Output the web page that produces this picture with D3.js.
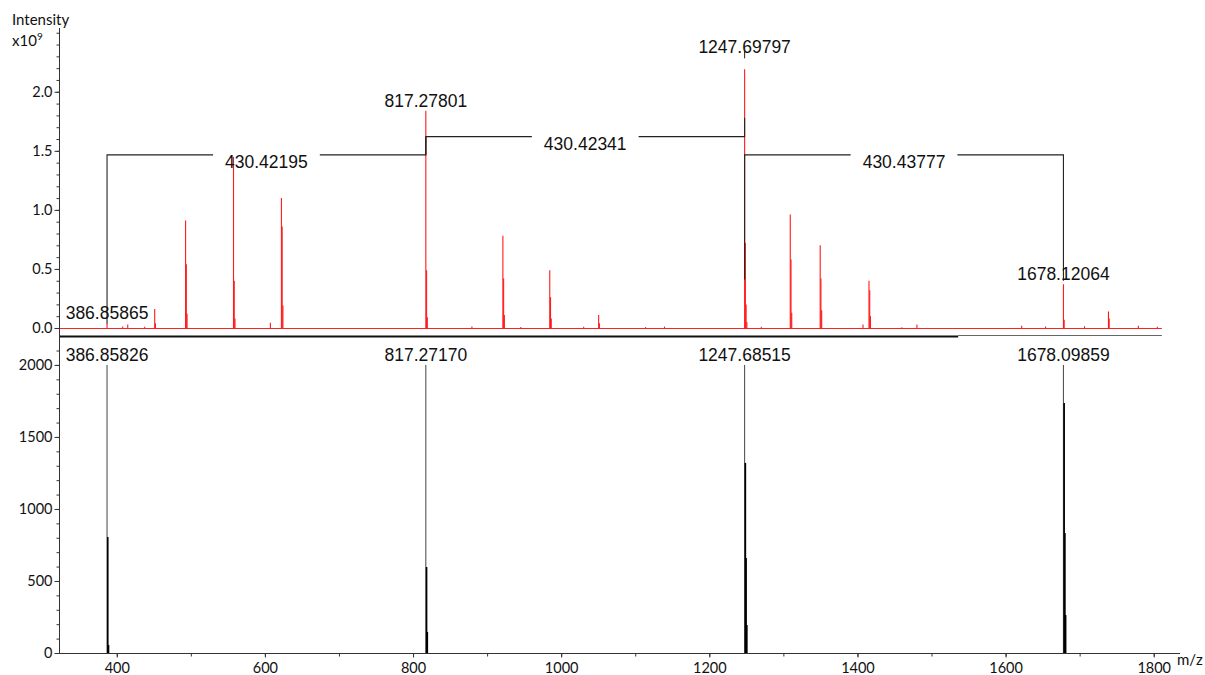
<!DOCTYPE html>
<html><head><meta charset="utf-8">
<script src="https://cdn.jsdelivr.net/npm/d3@7"></script>
<style>body{margin:0;background:#fff}svg{display:block}</style>
</head><body><svg id="c" width="1205" height="675"></svg>
<script>
// ---------- data ----------
// experimental spectrum (red, x10^9)
const topMz = [386.86, 408.0, 414.8, 437.7, 451.2, 452.2,
  492.9, 493.9, 494.9, 557.6, 558.6, 559.6, 607.4, 622.3, 623.3, 624.3,
  817.28, 818.28, 819.28, 879.5, 921.3, 922.3, 923.3, 945.5,
  984.6, 985.6, 986.6, 1030.4, 1050.6, 1051.6, 1113.9, 1139.5,
  1247.70, 1248.70, 1249.70, 1250.70, 1270.2,
  1309.3, 1310.3, 1311.3, 1349.7, 1350.7, 1351.7, 1407.5,
  1415.6, 1416.6, 1417.6, 1460.0, 1480.3, 1621.7, 1654.0,
  1678.12, 1679.12, 1706.6, 1738.9, 1739.9, 1779.3, 1804.9];
const topIntensity = [0.04, 0.012, 0.03, 0.01, 0.16, 0.04,
  0.91, 0.54, 0.12, 1.45, 0.40, 0.08, 0.045, 1.10, 0.86, 0.19,
  1.84, 0.49, 0.09, 0.012, 0.78, 0.42, 0.11, 0.008,
  0.49, 0.26, 0.08, 0.01, 0.11, 0.04, 0.008, 0.012,
  2.19, 0.72, 0.20, 0.05, 0.01,
  0.96, 0.58, 0.13, 0.70, 0.42, 0.15, 0.03,
  0.40, 0.32, 0.10, 0.006, 0.03, 0.02, 0.012,
  0.37, 0.07, 0.015, 0.14, 0.08, 0.02, 0.01];
// theoretical spectrum (black)
const bottomMz = [386.86, 387.86, 388.86,
  817.27, 818.27, 819.27,
  1247.69, 1248.69, 1249.69, 1250.69,
  1678.10, 1679.10, 1680.10, 1681.10];
const bottomIntensity = [2000, 805, 55,
  2000, 597, 146,
  2000, 1320, 660, 195,
  2000, 1736, 833, 264];
const topLabelMz = [386.85865, 817.27801, 1247.69797, 1678.12064];
const topLabelPeak = [0.04, 1.84, 2.19, 0.37];
const bottomLabelMz = [386.85826, 817.27170, 1247.68515, 1678.09859];
const bottomLabelPeak = [2000, 2000, 2000, 2000];
const bracketStart = [386.85865, 817.27801, 1247.69797];
const bracketEnd = [817.27801, 1247.69797, 1678.12064];
const bracketLevel = [1.466, 1.62, 1.466];
const bracketStartFoot = [0.035, 1.466, 0.41];
const bracketEndFoot = [1.62, 1.78, 0.40];
const bracketText = ["430.42195", "430.42341", "430.43777"];
const topTicks = [0.0, 0.5, 1.0, 1.5, 2.0];
const bottomTicks = [0, 500, 1000, 1500, 2000];
const xTicks = [400, 600, 800, 1000, 1200, 1400, 1600, 1800];

// ---------- layout ----------
const svg = d3.select("#c");
const x = d3.scaleLinear().domain([322, 1835.5]).range([59, 1180]);
const yTop = d3.scaleLinear().domain([0, 2.54]).range([328, 28]);
const yBot = d3.scaleLinear().domain([0, 2187]).range([653, 338]);
const specEnd = 1811;
const peakFont = "'Liberation Sans', Arial, sans-serif";
const axisFont = "Lato, 'Open Sans', sans-serif";

// top red spectrum
const gTop = svg.append("g");
gTop.append("line")
  .attr("x1", x(322)).attr("x2", x(specEnd))
  .attr("y1", yTop(0) + 0.5).attr("y2", yTop(0) + 0.5)
  .attr("stroke", "#ff2020").attr("stroke-width", 1.2);
gTop.selectAll("line.pk").data(topMz.map((m, i) => ({m, v: topIntensity[i]})))
  .join("line").attr("class", "pk")
  .attr("x1", d => x(d.m)).attr("x2", d => x(d.m))
  .attr("y1", yTop(0) + 0.5).attr("y2", d => yTop(d.v))
  .attr("stroke", "#ff1a1a").attr("stroke-width", 1.1);

// brackets
const gBr = svg.append("g").attr("stroke", "#222").attr("fill", "none").attr("stroke-width", 1.1);
bracketText.forEach((t, i) => {
  const x0 = x(bracketStart[i]), x1 = x(bracketEnd[i]), yl = yTop(bracketLevel[i]);
  gBr.append("path").attr("d",
    `M${x0},${yTop(bracketStartFoot[i])}V${yl}H${x1}V${yTop(bracketEndFoot[i])}`);
  const cx = (x0 + x1) / 2;
  const txt = svg.append("text").attr("x", cx).attr("y", yl + 13.5)
    .attr("text-anchor", "middle").attr("font-family", peakFont)
    .attr("font-size", "17.5px").attr("fill", "#111").text(t);
  const bb = txt.node().getBBox();
  svg.insert("rect", "text").attr("x", bb.x - 12).attr("y", yl - 2)
    .attr("width", bb.width + 24).attr("height", 4).attr("fill", "#fff");
});

// top peak labels
topLabelMz.forEach((m, i) => {
  const gap = i === 2 ? 16 : 4;
  const yy = yTop(topLabelPeak[i]) - gap;
  svg.append("text").attr("x", x(m)).attr("y", yy)
    .attr("text-anchor", "middle").attr("font-family", peakFont)
    .attr("font-size", "17.5px").attr("fill", "#111").text(m.toFixed(5));
  if (i === 2) {
    svg.append("line").attr("x1", x(m)).attr("x2", x(m))
      .attr("y1", yy - 5).attr("y2", yy + 5).attr("stroke", "#222");
  }
});

// separator between panels
svg.append("line").attr("x1", 59).attr("x2", x(1536))
  .attr("y1", 336.5).attr("y2", 336.5).attr("stroke", "#111").attr("stroke-width", 2);
svg.append("line").attr("x1", x(1536)).attr("x2", x(specEnd))
  .attr("y1", 335.5).attr("y2", 335.5).attr("stroke", "#666").attr("stroke-width", 1);

// bottom black spectrum
const gBot = svg.append("g");
gBot.selectAll("line").data(bottomMz.map((m, i) => ({m, v: bottomIntensity[i], main: bottomIntensity[i] === 2000})))
  .join("line")
  .attr("x1", d => x(d.m)).attr("x2", d => x(d.m))
  .attr("y1", yBot(0)).attr("y2", d => yBot(d.v))
  .attr("stroke", d => d.main ? "#444" : "#000")
  .attr("stroke-width", d => d.main ? 1 : 1.6);
bottomLabelMz.forEach((m, i) => {
  svg.append("text").attr("x", x(m)).attr("y", yBot(bottomLabelPeak[i]) - 4)
    .attr("text-anchor", "middle").attr("font-family", peakFont)
    .attr("font-size", "17.5px").attr("fill", "#111").text(m.toFixed(5));
});

// axes
function styleAxis(g) {
  g.select(".domain").remove();
  g.selectAll("line").attr("stroke", "#333");
  g.selectAll("text").attr("font-family", axisFont).attr("font-size", "14.5px").attr("fill", "#111");
}
svg.append("line").attr("x1", 59.5).attr("x2", 59.5).attr("y1", 28).attr("y2", 653.5)
  .attr("stroke", "#333").attr("stroke-width", 1);
svg.append("line").attr("x1", 59).attr("x2", 1180).attr("y1", 653.5).attr("y2", 653.5)
  .attr("stroke", "#333").attr("stroke-width", 1);

svg.append("g").attr("transform", "translate(59.5,0)")
  .call(d3.axisLeft(yTop).tickValues(d3.range(0, 26).map(k => k / 10)).tickSize(3).tickFormat(""))
  .call(styleAxis);
svg.append("g").attr("transform", "translate(59.5,0)")
  .call(d3.axisLeft(yTop).tickValues(topTicks).tickSize(5).tickPadding(2).tickFormat(d3.format(".1f")))
  .call(styleAxis);
svg.append("g").attr("transform", "translate(59.5,0)")
  .call(d3.axisLeft(yBot).tickValues(d3.range(0, 22).map(k => k * 100)).tickSize(3).tickFormat(""))
  .call(styleAxis);
svg.append("g").attr("transform", "translate(59.5,0)")
  .call(d3.axisLeft(yBot).tickValues(bottomTicks).tickSize(5).tickPadding(2).tickFormat(d3.format("d")))
  .call(styleAxis);
svg.append("g").attr("transform", "translate(0,653.5)")
  .call(d3.axisBottom(x).tickValues(d3.range(400, 1900, 100)).tickSize(3).tickFormat(""))
  .call(styleAxis);
svg.append("g").attr("transform", "translate(0,653.5)")
  .call(d3.axisBottom(x).tickValues(xTicks).tickSize(4).tickPadding(5).tickFormat(d3.format("d")))
  .call(styleAxis);

// axis titles
svg.append("text").attr("x", 12).attr("y", 25).attr("font-family", axisFont)
  .attr("font-size", "15px").attr("fill", "#111").text("Intensity");
const t9 = svg.append("text").attr("x", 12).attr("y", 46).attr("font-family", axisFont)
  .attr("font-size", "15px").attr("fill", "#111");
t9.append("tspan").text("x10");
t9.append("tspan").attr("dy", -6).attr("font-size", "10px").text("9");
svg.append("text").attr("x", 1177).attr("y", 665).attr("font-family", axisFont)
  .attr("font-size", "15px").attr("fill", "#111").text("m/z");
</script></body></html>
